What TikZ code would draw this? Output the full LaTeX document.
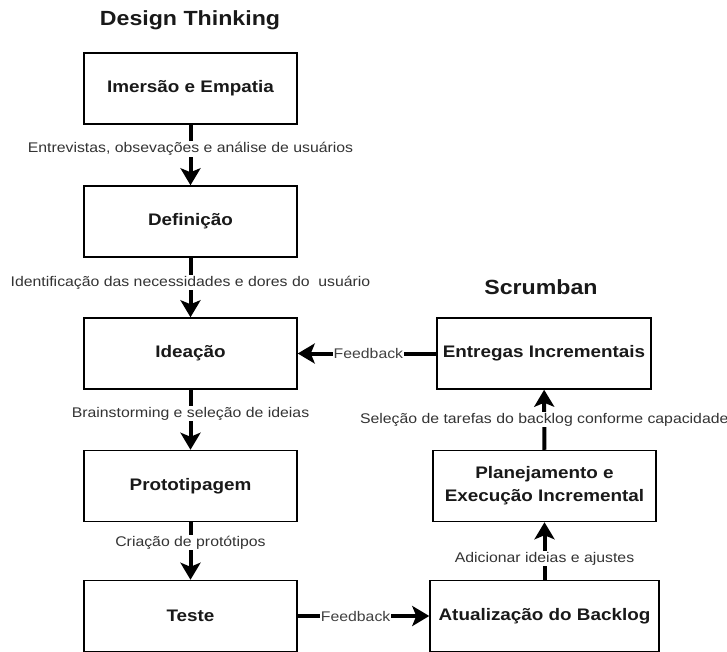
\documentclass[tikz,border=0pt]{standalone}
\usepackage{fontspec}
\setmainfont[FakeStretch=1.13]{Liberation Sans}
\usetikzlibrary{arrows.meta}

\begin{document}
\begin{tikzpicture}
  [x=1pt, y=-1pt, etape/.style={
    draw=black,
    fill=white,
    rectangle,
    line width=1.5pt,
    minimum width=213pt,
    minimum height=71pt,
    align=center,
    text=black!90,
    font=\fontsize{16.7}{20}\selectfont\bfseries}, titre/.style={
    text=black!90,
    font=\fontsize{20.5}{24}\selectfont\bfseries}, fleche/.style={
    line width=4pt,
    -{Stealth[length=17pt,width=20pt,inset=4pt]}}, legende/.style={
    fill=white,
    inner sep=1pt,
    text=black!80,
    font=\fontsize{14}{16}\selectfont}]

  \useasboundingbox (0,0) rectangle (727,652);

  \node [titre] at (190,20) (dt) {Design Thinking};
  \node [titre] at (541,287) (scrumban) {Scrumban};

  \node [etape] at (190.5,88.5) (imersao) {Imersão e Empatia};
  \node [etape] at (190.5,221.5) (definicao) {Definição};
  \node [etape] at (190.5,353.5) (ideacao) {Ideação};
  \node [etape] at (190.5,486) (prototipagem) {Prototipagem};
  \node [etape] at (190.5,616) (teste) {Teste};

  \node [etape, minimum width=229pt] at (544.5,616) (backlog) {Atualização do Backlog};
  \node [etape, minimum width=223pt, font=\fontsize{16.7}{23}\selectfont\bfseries]
    at (544.5,486) (planejamento) {Planejamento e\\Execução Incremental};
  \node [etape, minimum width=214pt] at (544,353.5) (entregas) {Entregas Incrementais};

  \draw [fleche] (imersao) -- node [legende, pos=.4]
    {Entrevistas, obsevações e análise de usuários} (definicao);
  \draw [fleche] (definicao) -- node [legende, pos=.42]
    {Identificação das necessidades e dores do~ usuário} (ideacao);
  \draw [fleche] (ideacao) -- node [legende, pos=.4]
    {Brainstorming e seleção de ideias} (prototipagem);
  \draw [fleche] (prototipagem) -- node [legende, pos=.35]
    {Criação de protótipos} (teste);

  \draw [fleche] (teste) -- node [legende, pos=.44, text=black!75] {Feedback} (backlog);
  \draw [fleche] (backlog) -- node [legende, pos=.37]
    {Adicionar ideias e ajustes} (planejamento);
  \draw [fleche] (planejamento) -- node [legende, pos=.5]
    {Seleção de tarefas do backlog conforme capacidade} (entregas);
  \draw [fleche] (entregas) -- node [legende, pos=.49, text=black!75] {Feedback} (ideacao);
\end{tikzpicture}
\end{document}
